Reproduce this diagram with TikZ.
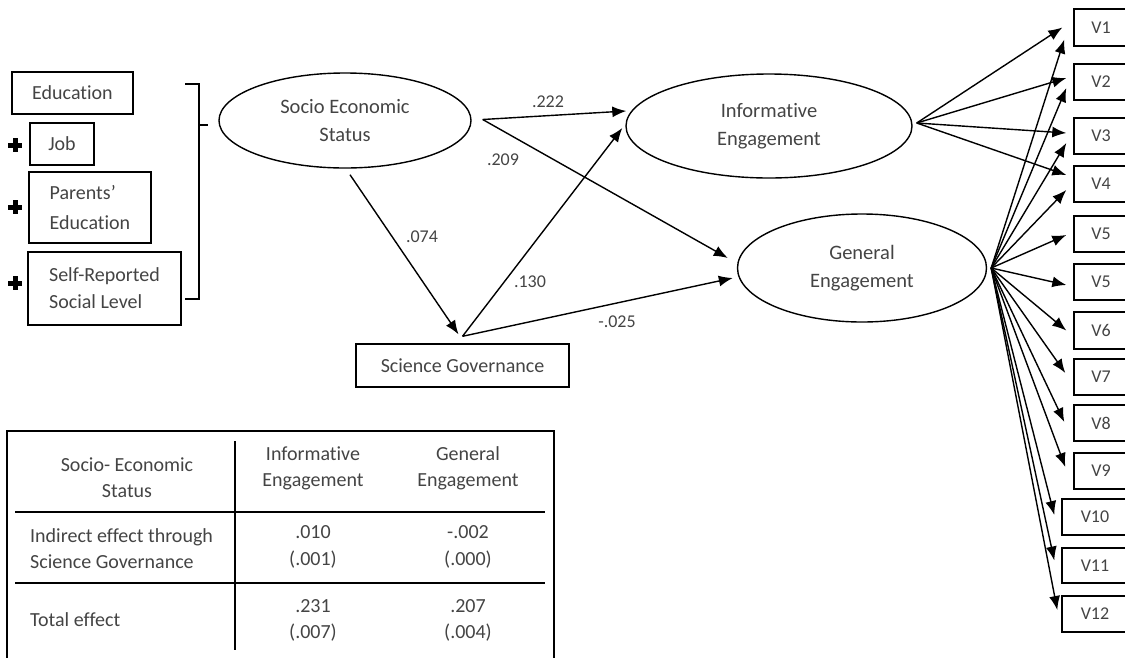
\documentclass[tikz,border=0pt]{standalone}
\usepackage{fontspec}
\setmainfont{Carlito}[Ligatures=NoCommon]
\usetikzlibrary{arrows.meta,calc,shapes.geometric}
\definecolor{txt}{RGB}{68,68,68}
\begin{document}
\begin{tikzpicture}[x=1pt,y=-1pt,
  every node/.style={text=txt},
  box/.style={draw=black,line width=1.4pt,inner sep=0pt,align=left,font=\fontsize{20}{27}\selectfont},
  ell/.style={ellipse,draw=black,line width=1.4pt,inner sep=0pt,align=center,font=\fontsize{20.5}{28}\selectfont},
  vbox/.style={draw=black,line width=1.4pt,inner sep=0pt,font=\fontsize{18}{20}\selectfont},
  arr/.style={-{Latex[length=14pt,width=11pt]},line width=1.4pt},
  lbl/.style={font=\fontsize{18}{20}\selectfont},
  plusmark/.style={line width=5pt,black},
  tb/.style={font=\fontsize{20}{26}\selectfont,align=center}
]
\useasboundingbox (0,0) rectangle (1125,657);

% indicators of SES
\node[box,minimum width=121pt,minimum height=42pt] (edu) at (72.5,93) {Education};
\node[box,minimum width=64pt,minimum height=42pt] (job) at (62,144) {Job};
\node[box,minimum width=122pt,minimum height=71pt,font=\fontsize{20}{30}\selectfont] (par) at (90,207.5) {Parents’\\Education};
\node[box,minimum width=153pt,minimum height=73pt] (self) at (104.5,288.5) {Self-Reported\\Social Level};
\foreach \yy/\nm in {145/p1,207/p2,283/p3}{
  \coordinate (\nm) at (15,\yy);
  \draw[plusmark] ($(\nm)+(-7,0)$) -- ($(\nm)+(7,0)$);
  \draw[plusmark] ($(\nm)+(0,-7)$) -- ($(\nm)+(0,7)$);
}
\draw[line width=1.3pt] (185,84) -- (199,84) -- (199,299) -- (185,299);
\draw[line width=1.3pt] (199,125) -- (208,125);

% latent variables
\node[ell,minimum width=252pt,minimum height=95pt] (ses) at (345,120.5) {Socio Economic\\Status};
\node[ell,minimum width=286pt,minimum height=104pt] (ie) at (769,126) {Informative\\Engagement};
\node[ell,minimum width=249pt,minimum height=108pt] (ge) at (862,268) {General\\Engagement};
\node[box,align=center,minimum width=213pt,minimum height=43pt] (sg) at (462.5,365.5) {Science Governance};

% observed variables
\node[vbox,minimum width=54pt,minimum height=37pt] (v1) at (1101,27.5) {V1};
\node[vbox,minimum width=54pt,minimum height=36pt] (v2) at (1101,82) {V2};
\node[vbox,minimum width=54pt,minimum height=36pt] (v3) at (1101,136) {V3};
\node[vbox,minimum width=54pt,minimum height=36pt] (v4) at (1101,184) {V4};
\node[vbox,minimum width=54pt,minimum height=36pt] (v5a) at (1101,234) {V5};
\node[vbox,minimum width=54pt,minimum height=36pt] (v5b) at (1101,282) {V5};
\node[vbox,minimum width=54pt,minimum height=37pt] (v6) at (1101,330.5) {V6};
\node[vbox,minimum width=54pt,minimum height=36pt] (v7) at (1101,377) {V7};
\node[vbox,minimum width=54pt,minimum height=36pt] (v8) at (1101,423) {V8};
\node[vbox,minimum width=54pt,minimum height=36pt] (v9) at (1101,471) {V9};
\node[vbox,minimum width=66pt,minimum height=36pt] (v10) at (1095,517) {V10};
\node[vbox,minimum width=66pt,minimum height=35pt] (v11) at (1095,565.5) {V11};
\node[vbox,minimum width=66pt,minimum height=36pt] (v12) at (1095,614) {V12};

% structural paths
\coordinate (seso) at ($(ses.east)+(11,-1)$);
\coordinate (sgn) at ($(sg.north)+(0,-7)$);
\draw[arr] (seso) -- ($(ie.west)+(1,-15)$);
\draw[arr] (seso) -- ($(ge.west)+(-9,-10)$);
\draw[arr] ($(ses.south)+(5,6)$) -- ($(sg.north)+(-4,-9)$);
\draw[arr] (sgn) -- ($(ie.west)+(-3,2)$);
\draw[arr] (sgn) -- ($(ge.west)+(-4,10)$);

\node[lbl] (l1) at (548,102) {.222};
\node[lbl] (l2) at (503,160) {.209};
\node[lbl] (l3) at (422,237) {.074};
\node[lbl] (l4) at (530,282) {.130};
\node[lbl] (l5) at (617,322) {-.025};

% measurement paths
\coordinate (ieo) at ($(ie.east)+(4,-3)$);
\coordinate (geo) at ($(ge.east)+(4,0)$);
\draw[arr] (ieo) -- ($(v1.west)+(-11,0)$);
\draw[arr] (ieo) -- ($(v2.west)+(-7,-4)$);
\draw[arr] (ieo) -- ($(v3.west)+(-7,-3)$);
\draw[arr] (ieo) -- ($(v4.west)+(-7,-9)$);
\draw[arr] (geo) -- ($(v1.west)+(-9,12)$);
\draw[arr] (geo) -- ($(v2.west)+(-7,6)$);
\draw[arr] (geo) -- ($(v3.west)+(-7,7)$);
\draw[arr] (geo) -- ($(v4.west)+(-7,6)$);
\draw[arr] (geo) -- ($(v5a.west)+(-7,1)$);
\draw[arr] (geo) -- ($(v5b.west)+(-7,3)$);
\draw[arr] (geo) -- ($(v6.west)+(-7,0)$);
\draw[arr] (geo) -- ($(v7.west)+(-8,-4)$);
\draw[arr] (geo) -- ($(v8.west)+(-9,-1)$);
\draw[arr] (geo) -- ($(v9.west)+(-8,-4)$);
\draw[arr] (geo) -- ($(v10.west)+(-7,-2)$);
\draw[arr] (geo) -- ($(v11.west)+(-7,-5)$);
\draw[arr] (geo) -- ($(v12.west)+(-4,-4)$);

% table
\draw[line width=1.3pt] (7,670) -- (7,431) -- (554,431) -- (554,670);
\draw[line width=1.3pt] (15,512) -- (545,512);
\draw[line width=1.3pt] (15,583) -- (545,583);
\draw[line width=1.3pt] (235,441) -- (235,650);
\node[tb] (t11) at (127,478) {Socio- Economic\\Status};
\node[tb] (t12) at (313,468) {Informative\\Engagement};
\node[tb] (t13) at (468,468) {General\\Engagement};
\node[tb,align=left,anchor=west,inner sep=0pt] (t21) at (30,549) {Indirect effect through\\Science Governance};
\node[tb,font=\fontsize{20}{27}\selectfont] (t22) at (313,546.5) {.010\\(.001)};
\node[tb,font=\fontsize{20}{27}\selectfont] (t23) at (468,546.5) {-.002\\(.000)};
\node[tb,anchor=west,inner sep=0pt] (t31) at (30,620) {Total effect};
\node[tb] (t32) at (313,620) {.231\\(.007)};
\node[tb] (t33) at (468,620) {.207\\(.004)};
\end{tikzpicture}
\end{document}
